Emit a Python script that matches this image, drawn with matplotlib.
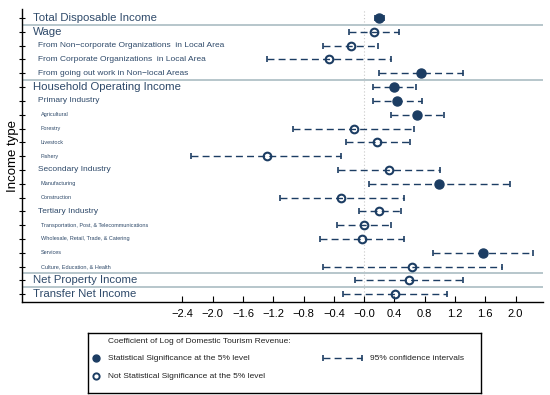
import numpy as np
import matplotlib
matplotlib.use("Agg")
import matplotlib.pyplot as plt
import matplotlib.transforms as mtransforms

plt.rcParams['font.family'] = ['Liberation Sans', 'DejaVu Sans']

# income categories, indent level (0 = main, 1 = sub, 2 = sub-sub)
labels = [
    "Total Disposable Income",
    "Wage",
    "From Non\u2212corporate Organizations  in Local Area",
    "From Corporate Organizations  in Local Area",
    "From going out work in Non\u2212local Areas",
    "Household Operating Income",
    "Primary Industry",
    "Agricultural",
    "Forestry",
    "Livestock",
    "Fishery",
    "Secondary Industry",
    "Manufacturing",
    "Construction",
    "Tertiary Industry",
    "Transportation, Post, & Telecommunications",
    "Wholesale, Retail, Trade, & Catering",
    "Services",
    "Culture, Education, & Health",
    "Net Property Income",
    "Transfer Net Income",
]
levels = [0, 0, 1, 1, 1, 0, 1, 2, 2, 2, 2, 1, 2, 2, 1, 2, 2, 2, 2, 0, 0]
coef = [0.20, 0.13, -0.18, -0.46, 0.75, 0.40, 0.44, 0.70, -0.13, 0.17, -1.29,
        0.33, 0.99, -0.30, 0.20, 0.00, -0.03, 1.57, 0.63, 0.59, 0.41]
ci_lo = [0.14, -0.20, -0.54, -1.28, 0.20, 0.12, 0.11, 0.36, -0.94, -0.24, -2.29,
         -0.34, 0.07, -1.11, -0.07, -0.36, -0.58, 0.91, -0.55, -0.12, -0.28]
ci_hi = [0.26, 0.46, 0.18, 0.36, 1.31, 0.69, 0.77, 1.06, 0.66, 0.61, -0.30,
         1.00, 1.92, 0.52, 0.48, 0.36, 0.53, 2.23, 1.82, 1.31, 1.10]
significant = [True, False, False, False, True, True, True, True, False, False, False,
               False, True, False, False, False, False, True, False, False, False]
separators = [0.5, 4.5, 18.5, 19.5]
xticks = np.round(np.arange(-2.4, 2.01, 0.4), 1)

navy = "#1c3d63"
text_col = "#2f4a6a"
sep_col = "#b7c6cb"
label_size = {0: 8.2, 1: 6.0, 2: 4.0}
label_x = {0: 0.021, 1: 0.031, 2: 0.036}

fig = plt.figure(figsize=(5.5, 3.95), dpi=100)
ax = fig.add_axes([0.04, 0.235, 0.947, 0.742])

rows = np.arange(len(labels))
ax.axvline(0, color="#c8c8c8", lw=0.8, ls=(0, (1, 2)), zorder=1)
for y in separators:
    ax.axhline(y, color=sep_col, lw=1.4, zorder=1)

for i in rows:
    ax.plot([ci_lo[i], ci_hi[i]], [i, i], color=navy, lw=1.0, dashes=(5, 3), zorder=2)
    ax.plot([ci_lo[i], ci_hi[i]], [i, i], ls="none", marker="|", ms=5,
            mew=1.2, color=navy, zorder=2)
    if significant[i]:
        ax.plot(coef[i], i, "o", ms=6.5, color=navy, zorder=3)
    else:
        ax.plot(coef[i], i, "o", ms=5.5, mfc="none", mec=navy, mew=1.5, zorder=3)

trans = mtransforms.blended_transform_factory(ax.transAxes, ax.transData)
for i, (lab, lev) in enumerate(zip(labels, levels)):
    ax.text(label_x[lev], i, lab, transform=trans, fontsize=label_size[lev],
            color=text_col, va="center", ha="left")

ax.set_xlim(-4.52, 2.36)
ax.set_ylim(len(labels) - 0.42, -0.65)
ax.set_xticks(xticks)
ax.set_xticklabels([f"{t:.1f}".replace("-", "\u2212") for t in xticks])
ax.set_yticks(rows)
ax.set_yticklabels([])
ax.tick_params(axis="x", direction="in", length=4, width=0.8, labelsize=8, pad=5)
ax.tick_params(axis="y", direction="inout", length=4, width=0.8)
for side in ["top", "right"]:
    ax.spines[side].set_visible(False)
for side in ["left", "bottom"]:
    ax.spines[side].set_linewidth(1.0)
ax.set_ylabel("Income type", fontsize=9.5)
ax.yaxis.set_label_coords(-0.006, 0.5)

# legend box drawn by hand
lg = fig.add_axes([0.16, 0.005, 0.7145, 0.152])
lg.set_xlim(0, 393)
lg.set_ylim(60, 0)
lg.set_xticks([])
lg.set_yticks([])
for s in lg.spines.values():
    s.set_linewidth(1.0)
fs = 6.0
lg.text(20, 8.5, "Coefficient of Log of Domestic Tourism Revenue:", fontsize=fs,
        va="center", ha="left", color="#222222")
lg.plot(8, 25, "o", ms=5, color=navy)
lg.text(20, 25, "Statistical Significance at the 5% level", fontsize=fs,
        va="center", ha="left", color="#222222")
lg.plot(8, 43, "o", ms=4.5, mfc="none", mec=navy, mew=1.4)
lg.text(20, 43, "Not Statistical Significance at the 5% level", fontsize=fs,
        va="center", ha="left", color="#222222")
lg.plot([235, 274], [25, 25], color=navy, lw=1.0, dashes=(5, 3))
lg.plot([235, 274], [25, 25], ls="none", marker="|", ms=5, mew=1.2, color=navy)
lg.text(282, 25, "95% confidence intervals", fontsize=fs, va="center",
        ha="left", color="#222222")

fig.savefig("out.png", dpi=100)
